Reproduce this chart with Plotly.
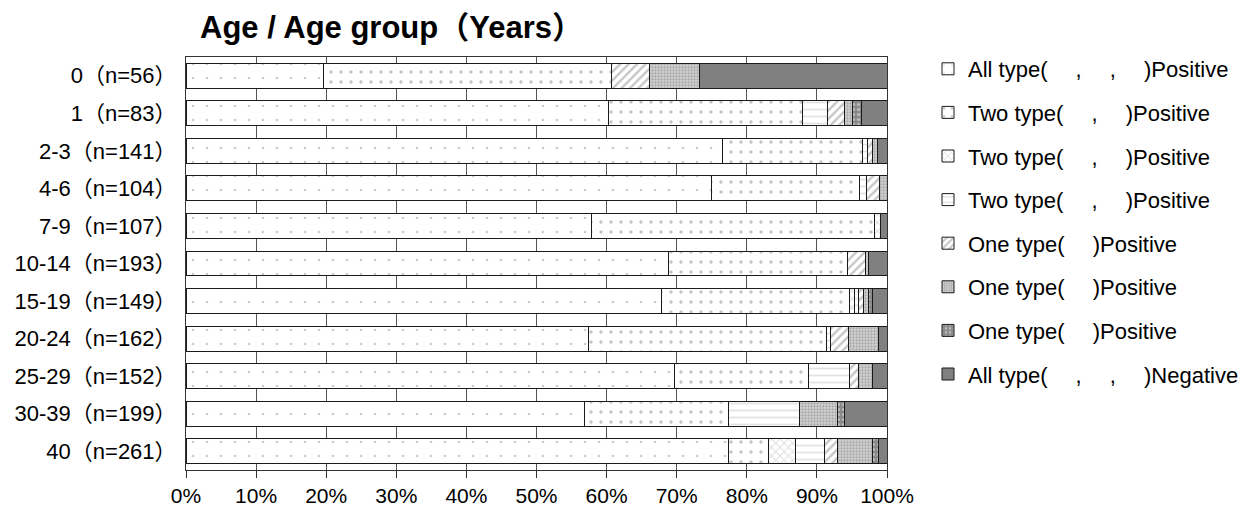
import plotly.graph_objects as go

categories = ["0（n=56）", "1（n=83）", "2-3（n=141）", "4-6（n=104）", "7-9（n=107）",
              "10-14（n=193）", "15-19（n=149）", "20-24（n=162）", "25-29（n=152）",
              "30-39（n=199）", "40（n=261）"]

# percentages per category (top to bottom)
all_pos   = [19.6, 60.2, 76.6, 75.0, 57.9, 68.9, 67.8, 57.4, 69.7, 56.8, 77.4]
two_a     = [41.1, 27.7, 19.9, 21.1, 40.3, 25.4, 26.8, 34.0, 19.1, 20.6, 5.7]
two_b     = [None, None, None, None, 0.9, None, 0.7, None, None, None, 3.8]
two_c     = [None, 3.6, 0.7, 1.0, None, None, 0.7, 0.6, 5.9, 10.1, 4.2]
one_a     = [5.4, 2.4, 0.7, 1.9, None, 2.6, 0.7, 2.5, 1.3, None, 1.9]
one_b     = [7.1, 1.2, 0.7, 1.0, None, 0.5, 0.7, 4.3, 2.0, 5.5, 5.0]
one_c     = [None, 1.2, None, None, None, None, 0.6, None, None, 1.0, 0.8]
all_neg   = [26.8, 3.7, 1.4, None, 0.9, 2.6, 2.0, 1.2, 2.0, 6.0, 1.2]

names = ["All type(\u3000 ,\u3000 ,\u3000 )Positive",
         "Two type(\u3000 ,\u3000 )Positive",
         "Two type(\u3000 ,\u3000 )Positive",
         "Two type(\u3000 ,\u3000 )Positive",
         "One type(\u3000 )Positive",
         "One type(\u3000 )Positive",
         "One type(\u3000 )Positive",
         "All type(\u3000 ,\u3000 ,\u3000 )Negative"]

series = [all_pos, two_a, two_b, two_c, one_a, one_b, one_c, all_neg]

styles = [
    dict(color="white", pattern=dict(shape=".", size=14, solidity=0.03, fgcolor="#999999", bgcolor="white", fillmode="overlay")),
    dict(color="white", pattern=dict(shape=".", size=10, solidity=0.09, fgcolor="#8a8a8a", bgcolor="white", fillmode="overlay")),
    dict(color="white", pattern=dict(shape="x", size=6, solidity=0.3, fgcolor="#bdbdbd", bgcolor="white", fillmode="overlay")),
    dict(color="white", pattern=dict(shape="-", size=7, solidity=0.25, fgcolor="#c8c8c8", bgcolor="white", fillmode="overlay")),
    dict(color="white", pattern=dict(shape="/", size=6, solidity=0.4, fgcolor="#8c8c8c", bgcolor="white", fillmode="overlay")),
    dict(color="#cacaca", pattern=dict(shape=".", size=3, solidity=0.45, fgcolor="#7a7a7a", bgcolor="#d4d4d4", fillmode="overlay")),
    dict(color="#8a8a8a", pattern=dict(shape=".", size=5, solidity=0.3, fgcolor="#f0f0f0", bgcolor="#8a8a8a", fillmode="overlay")),
    dict(color="#808080"),
]

FONT = "Liberation Sans, Arial, Noto Sans CJK JP, sans-serif"
W, H = 1235, 498

fig = go.Figure()
for i, (vals, nm, st) in enumerate(zip(series, names, styles)):
    marker = dict(st)
    marker["line"] = dict(color="#1a1a1a", width=1)
    fig.add_trace(go.Bar(
        y=categories, x=vals, name=nm, orientation="h",
        marker=marker, legendgroup=f"g{i}",
        hoverinfo="x+name",
    ))

fig.update_layout(
    width=W, height=H,
    barmode="stack", bargap=0.335,
    margin=dict(l=178, r=356, t=49, b=36, autoexpand=False),
    paper_bgcolor="white", plot_bgcolor="white",
    font=dict(family=FONT, size=21, color="#000"),
    title=dict(text="<b>Age / Age group（Years）</b>", x=192/W, xref="container", xanchor="left",
               y=1 - 19/H, yanchor="middle", font=dict(size=31, family=FONT, color="#000")),
    legend=dict(x=920/W, y=1 - 40/H, xref="container", yref="container",
                xanchor="left", yanchor="top", traceorder="grouped", maxheight=480,
                tracegroupgap=12, font=dict(size=22, family=FONT), bgcolor="rgba(0,0,0,0)"),
    xaxis=dict(range=[0, 100], dtick=10, ticksuffix="%", showgrid=True, gridcolor="#555", gridwidth=1,
               showline=True, linecolor="#333", linewidth=1, mirror=True, ticks="outside", ticklen=7,
               tickcolor="#333", zeroline=False, tickfont=dict(size=21)),
    yaxis=dict(autorange="reversed", showline=True, linecolor="#333", linewidth=1, mirror=True,
               ticks="", ticklabelstandoff=4, tickfont=dict(size=22)),
)

fig.write_html("out.html")
